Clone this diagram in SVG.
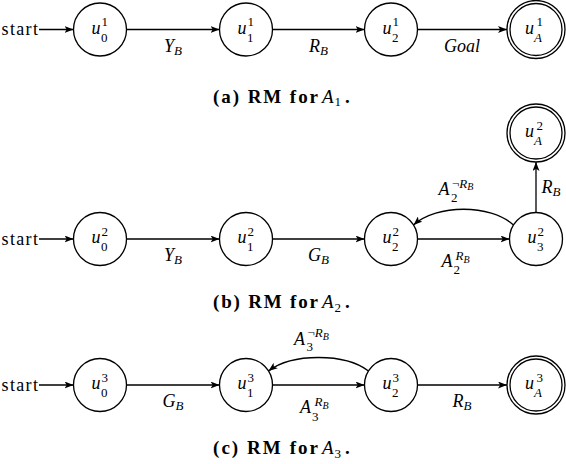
<svg xmlns="http://www.w3.org/2000/svg" width="566" height="464" viewBox="0 0 566 464">
<defs>
<marker id="ah" viewBox="0 0 9 7" refX="9" refY="3.5" markerWidth="9" markerHeight="7" markerUnits="userSpaceOnUse" orient="auto">
<path d="M0,0 L9,3.5 L0,7 L2.2,3.5 Z" fill="#000"/>
</marker>
</defs>
<rect width="566" height="464" fill="#fff"/>

<g id="connectors" fill="none" stroke="#000" stroke-width="1.3">
<line x1="39" y1="29.5" x2="73.5" y2="29.5" marker-end="url(#ah)"/>
<line x1="126.5" y1="29.5" x2="219.5" y2="29.5" marker-end="url(#ah)"/>
<line x1="272.5" y1="29.5" x2="364.5" y2="29.5" marker-end="url(#ah)"/>
<line x1="417.5" y1="29.5" x2="507" y2="29.5" marker-end="url(#ah)"/>
<line x1="39" y1="239" x2="73.5" y2="239" marker-end="url(#ah)"/>
<line x1="126.5" y1="239" x2="219.5" y2="239" marker-end="url(#ah)"/>
<line x1="272.5" y1="239" x2="364.5" y2="239" marker-end="url(#ah)"/>
<line x1="417.5" y1="239" x2="509.5" y2="239" marker-end="url(#ah)"/>
<path d="M513.5,225 C490,204 437,204 413.5,225" marker-end="url(#ah)"/>
<line x1="536" y1="212.5" x2="536" y2="162" marker-end="url(#ah)"/>
<line x1="39" y1="385" x2="73.5" y2="385" marker-end="url(#ah)"/>
<line x1="126.5" y1="385" x2="219.5" y2="385" marker-end="url(#ah)"/>
<line x1="272.5" y1="385" x2="364.5" y2="385" marker-end="url(#ah)"/>
<line x1="417.5" y1="385" x2="507" y2="385" marker-end="url(#ah)"/>
<path d="M368.5,371 C345,353 292,353 268.5,371" marker-end="url(#ah)"/>
</g>

<g id="edge-labels" fill="#000">
<text font-family="Liberation Serif" font-size="18" x="1.5" y="35" textLength="36.5">start</text>
<text font-family="Liberation Serif" font-size="18" font-style="italic" x="173" y="51.5" text-anchor="middle">Y<tspan font-size="13" dy="3">B</tspan></text>
<text font-family="Liberation Serif" font-size="18" font-style="italic" x="318.5" y="51.5" text-anchor="middle">R<tspan font-size="13" dy="3">B</tspan></text>
<text font-family="Liberation Serif" font-size="18" font-style="italic" x="462" y="51.5" text-anchor="middle">Goal</text>

<text font-family="Liberation Serif" font-size="18" x="1.5" y="244.5" textLength="36.5">start</text>
<text font-family="Liberation Serif" font-size="18" font-style="italic" x="173" y="261" text-anchor="middle">Y<tspan font-size="13" dy="3">B</tspan></text>
<text font-family="Liberation Serif" font-size="18" font-style="italic" x="318.5" y="261" text-anchor="middle">G<tspan font-size="13" dy="3">B</tspan></text>
<text font-family="Liberation Serif" font-size="18" font-style="italic" x="441.5" y="267">A</text>
<text font-family="Liberation Serif" font-size="13" font-style="italic" x="455.5" y="260">R<tspan font-size="10" dy="2.5">B</tspan></text>
<text font-family="Liberation Serif" font-size="13" x="453.5" y="274">2</text>
<text font-family="Liberation Serif" font-size="18" font-style="italic" x="438.5" y="195">A</text>
<text font-family="Liberation Serif" font-size="13" x="452" y="187.5">&#172;<tspan font-style="italic">R</tspan><tspan font-style="italic" font-size="10" dy="2.5">B</tspan></text>
<text font-family="Liberation Serif" font-size="13" x="451" y="202">2</text>
<text font-family="Liberation Serif" font-size="18" font-style="italic" x="541.5" y="193">R<tspan font-size="13" dy="3">B</tspan></text>

<text font-family="Liberation Serif" font-size="18" x="1.5" y="390.5" textLength="36.5">start</text>
<text font-family="Liberation Serif" font-size="18" font-style="italic" x="173" y="407" text-anchor="middle">G<tspan font-size="13" dy="3">B</tspan></text>
<text font-family="Liberation Serif" font-size="18" font-style="italic" x="462" y="407" text-anchor="middle">R<tspan font-size="13" dy="3">B</tspan></text>
<text font-family="Liberation Serif" font-size="18" font-style="italic" x="300" y="413">A</text>
<text font-family="Liberation Serif" font-size="13" font-style="italic" x="314.5" y="406">R<tspan font-size="10" dy="2.5">B</tspan></text>
<text font-family="Liberation Serif" font-size="13" x="312" y="420.5">3</text>
<text font-family="Liberation Serif" font-size="18" font-style="italic" x="294" y="345">A</text>
<text font-family="Liberation Serif" font-size="13" x="307.5" y="337">&#172;<tspan font-style="italic">R</tspan><tspan font-style="italic" font-size="10" dy="2.5">B</tspan></text>
<text font-family="Liberation Serif" font-size="13" x="306.5" y="351">3</text>
</g>

<g id="a_u0"><circle cx="100" cy="29.5" r="26.5" fill="#fff" stroke="#000" stroke-width="1.3"/><text font-family="Liberation Serif" font-size="18" font-style="italic" x="91.5" y="33.5">u</text><text font-family="Liberation Serif" font-size="13" x="101.5" y="26">1</text><text font-family="Liberation Serif" font-size="13" x="101" y="41.5">0</text></g>
<g id="a_u1"><circle cx="246" cy="29.5" r="26.5" fill="#fff" stroke="#000" stroke-width="1.3"/><text font-family="Liberation Serif" font-size="18" font-style="italic" x="237.5" y="33.5">u</text><text font-family="Liberation Serif" font-size="13" x="247.5" y="26">1</text><text font-family="Liberation Serif" font-size="13" x="247" y="41.5">1</text></g>
<g id="a_u2"><circle cx="391" cy="29.5" r="26.5" fill="#fff" stroke="#000" stroke-width="1.3"/><text font-family="Liberation Serif" font-size="18" font-style="italic" x="382.5" y="33.5">u</text><text font-family="Liberation Serif" font-size="13" x="392.5" y="26">1</text><text font-family="Liberation Serif" font-size="13" x="392" y="41.5">2</text></g>
<g id="a_uA"><circle cx="536" cy="29.5" r="29" fill="#fff" stroke="#000" stroke-width="1.3"/><circle cx="536" cy="29.5" r="26" fill="#fff" stroke="#000" stroke-width="1.3"/><text font-family="Liberation Serif" font-size="18" font-style="italic" x="525" y="33.5">u</text><text font-family="Liberation Serif" font-size="13" x="536.5" y="26">1</text><text font-family="Liberation Serif" font-size="13" font-style="italic" x="534" y="41.5">A</text></g>

<g id="b_u0"><circle cx="100" cy="239" r="26.5" fill="#fff" stroke="#000" stroke-width="1.3"/><text font-family="Liberation Serif" font-size="18" font-style="italic" x="91.5" y="243">u</text><text font-family="Liberation Serif" font-size="13" x="101.5" y="235.5">2</text><text font-family="Liberation Serif" font-size="13" x="101" y="251">0</text></g>
<g id="b_u1"><circle cx="246" cy="239" r="26.5" fill="#fff" stroke="#000" stroke-width="1.3"/><text font-family="Liberation Serif" font-size="18" font-style="italic" x="237.5" y="243">u</text><text font-family="Liberation Serif" font-size="13" x="247.5" y="235.5">2</text><text font-family="Liberation Serif" font-size="13" x="247" y="251">1</text></g>
<g id="b_u2"><circle cx="391" cy="239" r="26.5" fill="#fff" stroke="#000" stroke-width="1.3"/><text font-family="Liberation Serif" font-size="18" font-style="italic" x="382.5" y="243">u</text><text font-family="Liberation Serif" font-size="13" x="392.5" y="235.5">2</text><text font-family="Liberation Serif" font-size="13" x="392" y="251">2</text></g>
<g id="b_u3"><circle cx="536" cy="239" r="26.5" fill="#fff" stroke="#000" stroke-width="1.3"/><text font-family="Liberation Serif" font-size="18" font-style="italic" x="527.5" y="243">u</text><text font-family="Liberation Serif" font-size="13" x="537.5" y="235.5">2</text><text font-family="Liberation Serif" font-size="13" x="537" y="251">3</text></g>
<g id="b_uA"><circle cx="536" cy="133" r="29" fill="#fff" stroke="#000" stroke-width="1.3"/><circle cx="536" cy="133" r="26" fill="#fff" stroke="#000" stroke-width="1.3"/><text font-family="Liberation Serif" font-size="18" font-style="italic" x="525" y="137">u</text><text font-family="Liberation Serif" font-size="13" x="536.5" y="129.5">2</text><text font-family="Liberation Serif" font-size="13" font-style="italic" x="534" y="145">A</text></g>

<g id="c_u0"><circle cx="100" cy="385" r="26.5" fill="#fff" stroke="#000" stroke-width="1.3"/><text font-family="Liberation Serif" font-size="18" font-style="italic" x="91.5" y="389">u</text><text font-family="Liberation Serif" font-size="13" x="101.5" y="381.5">3</text><text font-family="Liberation Serif" font-size="13" x="101" y="397">0</text></g>
<g id="c_u1"><circle cx="246" cy="385" r="26.5" fill="#fff" stroke="#000" stroke-width="1.3"/><text font-family="Liberation Serif" font-size="18" font-style="italic" x="237.5" y="389">u</text><text font-family="Liberation Serif" font-size="13" x="247.5" y="381.5">3</text><text font-family="Liberation Serif" font-size="13" x="247" y="397">1</text></g>
<g id="c_u2"><circle cx="391" cy="385" r="26.5" fill="#fff" stroke="#000" stroke-width="1.3"/><text font-family="Liberation Serif" font-size="18" font-style="italic" x="382.5" y="389">u</text><text font-family="Liberation Serif" font-size="13" x="392.5" y="381.5">3</text><text font-family="Liberation Serif" font-size="13" x="392" y="397">2</text></g>
<g id="c_uA"><circle cx="536" cy="385" r="29" fill="#fff" stroke="#000" stroke-width="1.3"/><circle cx="536" cy="385" r="26" fill="#fff" stroke="#000" stroke-width="1.3"/><text font-family="Liberation Serif" font-size="18" font-style="italic" x="525" y="389">u</text><text font-family="Liberation Serif" font-size="13" x="536.5" y="381.5">3</text><text font-family="Liberation Serif" font-size="13" font-style="italic" x="534" y="397">A</text></g>

<g id="captions">
<text font-family="Liberation Serif" font-size="19" font-weight="bold" x="213" y="102.5" textLength="105">(a) RM for</text>
<text font-family="Liberation Serif" font-size="19" font-style="italic" x="322" y="102.5">A</text><text font-family="Liberation Serif" font-size="13" x="334.5" y="106">1</text><text font-family="Liberation Serif" font-size="19" font-weight="bold" x="345" y="102.5">.</text>
<text font-family="Liberation Serif" font-size="19" font-weight="bold" x="213" y="308" textLength="105">(b) RM for</text>
<text font-family="Liberation Serif" font-size="19" font-style="italic" x="322" y="308">A</text><text font-family="Liberation Serif" font-size="13" x="334.5" y="311.5">2</text><text font-family="Liberation Serif" font-size="19" font-weight="bold" x="345" y="308">.</text>
<text font-family="Liberation Serif" font-size="19" font-weight="bold" x="213" y="454" textLength="105">(c) RM for</text>
<text font-family="Liberation Serif" font-size="19" font-style="italic" x="322" y="454">A</text><text font-family="Liberation Serif" font-size="13" x="334.5" y="457.5">3</text><text font-family="Liberation Serif" font-size="19" font-weight="bold" x="345" y="454">.</text>
</g>
</svg>
